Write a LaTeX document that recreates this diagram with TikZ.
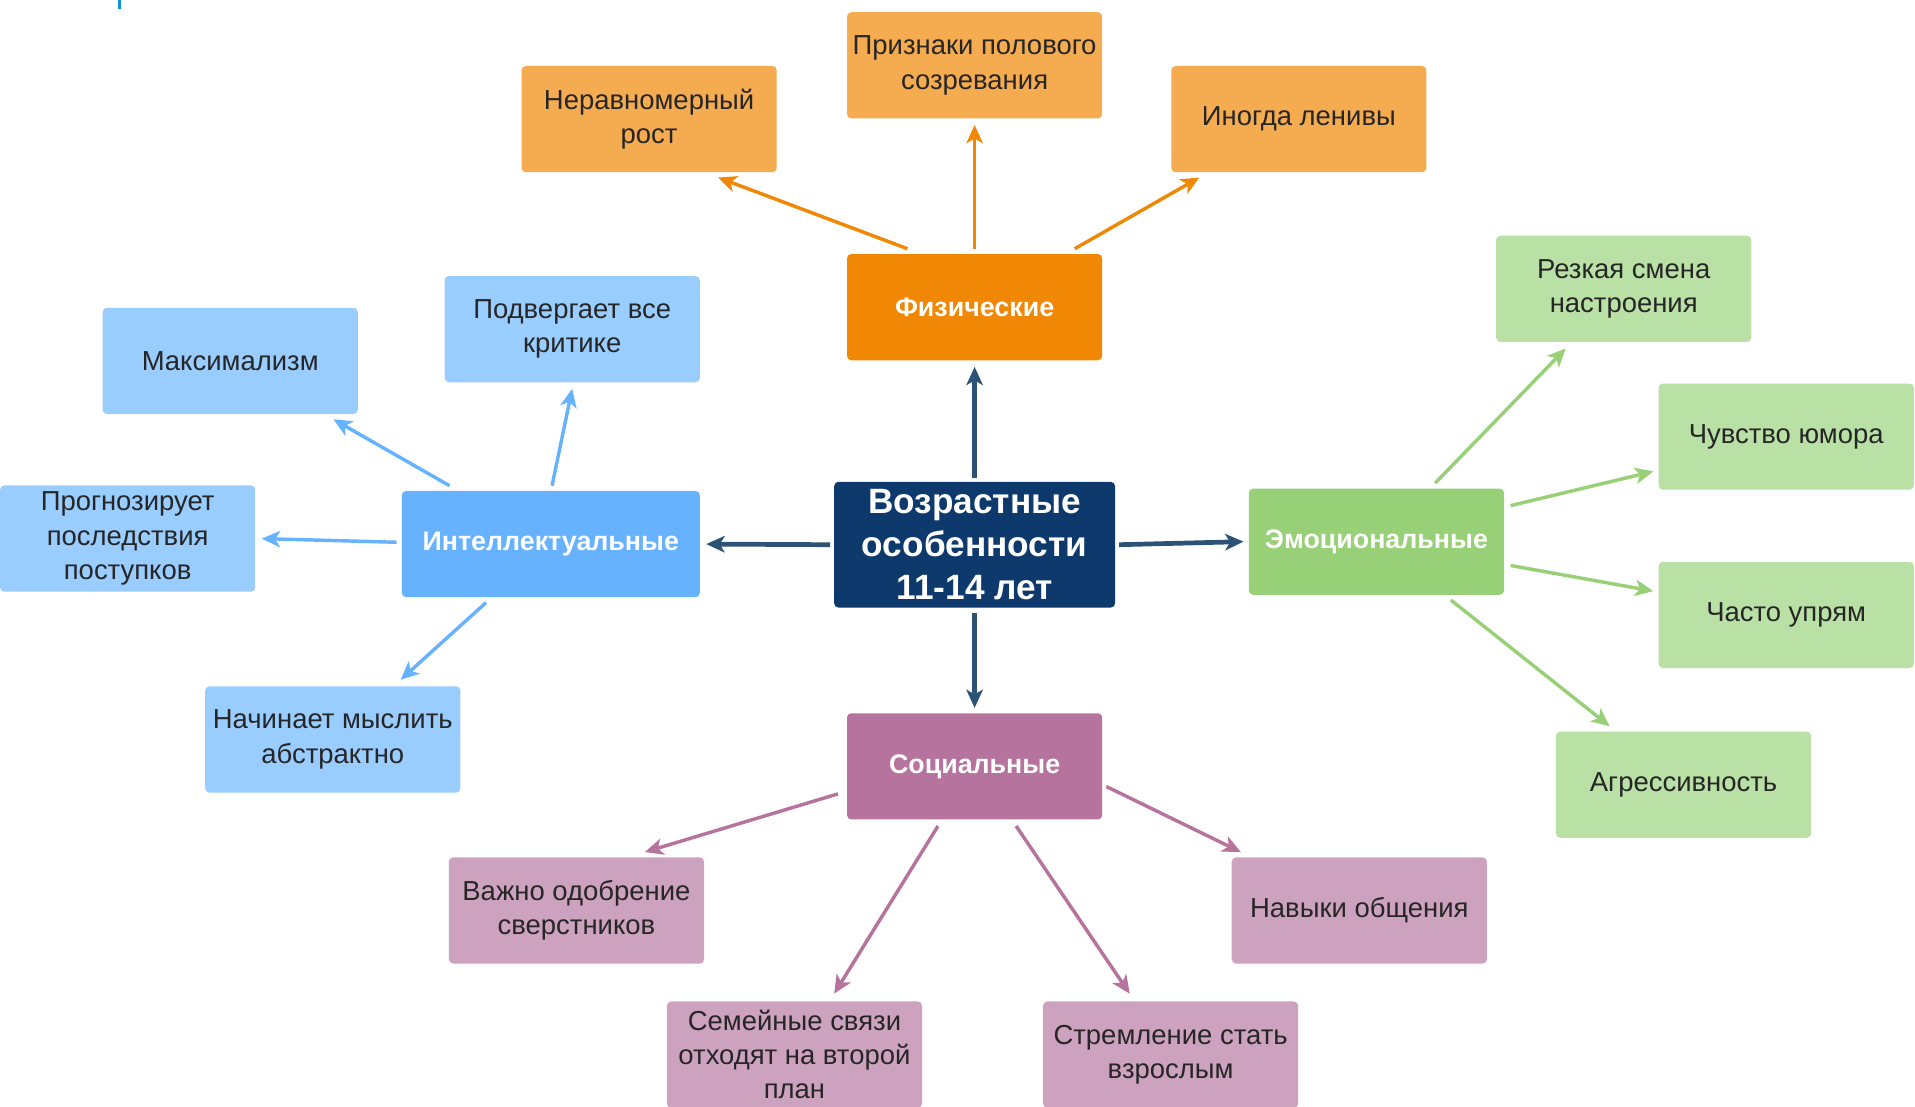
\documentclass[tikz,border=0pt]{standalone}
\usepackage{fontspec}
\setmainfont{Liberation Sans}
\usetikzlibrary{arrows.meta, calc}
\definecolor{navy}{RGB}{14,57,108}
\definecolor{stem}{RGB}{44,82,118}
\definecolor{orangeD}{HTML}{F08705}
\definecolor{orangeL}{HTML}{F5AB50}
\definecolor{blueD}{HTML}{66B2FF}
\definecolor{blueL}{HTML}{99CCFF}
\definecolor{greenD}{HTML}{97D077}
\definecolor{greenL}{HTML}{B9E0A5}
\definecolor{purpleD}{HTML}{B5739D}
\definecolor{purpleL}{HTML}{CDA2BE}
\tikzset{
    block/.style = {rectangle, rounded corners=2pt, minimum width=4.18cm, minimum height=1.74cm, inner sep=2pt, align=center, text=black!85, font=\fontsize{12.8}{16}\selectfont},
    head/.style = {block, text=white, font=\fontsize{12.5}{15}\selectfont\bfseries},
    link/.style = {line width=1.6pt, -{Stealth[length=0.3cm, width=0.27cm, inset=0.08cm]}},
    stemlink/.style = {link, line width=2.2pt, draw=stem}
}

\begin{document}
\begin{tikzpicture}[x=0.02cm, y=-0.02cm]
    \useasboundingbox (0,0) rectangle (1568,906);
    \fill [cyan!80!blue] (97,0) rectangle (99,7);
    % Центр
    \node [block, fill=navy, text=white, minimum width=4.6cm, minimum height=2.06cm, font=\fontsize{16.4}{20}\selectfont\bfseries] (age) at (798,446) {Возрастные\\особенности\\11-14 лет};
    % Группы
    \node [head, fill=orangeD] (phys) at (798,251.5) {Физические};
    \node [head, fill=blueD, minimum width=4.88cm] (intel) at (451,445.5) {Интеллектуальные};
    \node [head, fill=greenD] (emo) at (1127,443.5) {Эмоциональные};
    \node [head, fill=purpleD] (soc) at (798,627.5) {Социальные};
    % Физические
    \node [block, fill=orangeL] (uneven) at (531.5,97.5) {Неравномерный\\рост};
    \node [block, fill=orangeL] (puberty) at (798,53.5) {Признаки полового\\созревания};
    \node [block, fill=orangeL] (lazy) at (1063.5,97.5) {Иногда ленивы};
    % Интеллектуальные
    \node [block, fill=blueL] (maxim) at (188.5,295.5) {Максимализм};
    \node [block, fill=blueL] (critic) at (468.5,269.5) {Подвергает все\\критике};
    \node [block, fill=blueL] (predict) at (104.5,441) {Прогнозирует\\последствия\\поступков};
    \node [block, fill=blueL] (abstract) at (272.5,605.5) {Начинает мыслить\\абстрактно};
    % Эмоциональные
    \node [block, fill=greenL] (mood) at (1329.5,236.5) {Резкая смена\\настроения};
    \node [block, fill=greenL] (humor) at (1462.5,357.5) {Чувство юмора};
    \node [block, fill=greenL] (stubborn) at (1462.5,503.5) {Часто упрям};
    \node [block, fill=greenL] (aggr) at (1378.5,642.5) {Агрессивность};
    % Социальные
    \node [block, fill=purpleL] (peers) at (472,745.5) {Важно одобрение\\сверстников};
    \node [block, fill=purpleL] (family) at (650.5,863.5) {Семейные связи\\отходят на второй\\план};
    \node [block, fill=purpleL] (adult) at (958.5,863.5) {Стремление стать\\взрослым};
    \node [block, fill=purpleL] (skills) at (1113,745.5) {Навыки общения};
    % Стрелки
    \draw [stemlink] ($(age.north)+(0,-3)$) -- ($(phys.south)+(0,5)$);
    \draw [stemlink] ($(age.west)+(-3,0)$) -- ($(intel.east)+(5,0)$);
    \draw [stemlink] ($(age.east)+(3,0)$) -- ($(emo.west)+(-4,0)$);
    \draw [stemlink] ($(age.south)+(0,4)$) -- ($(soc.north)+(0,-4)$);

    \draw [link, draw=orangeD] ($(phys.north)+(-55,-4)$) -- ($(uneven.south)+(56.5,4)$);
    \draw [link, draw=orangeD] ($(phys.north)+(0,-4)$) -- ($(puberty.south)+(0,5)$);
    \draw [link, draw=orangeD] ($(phys.north)+(82,-4)$) -- ($(lazy.south)+(-81.5,4)$);

    \draw [link, draw=blueD] ($(intel.north)+(-83,-4)$) -- ($(maxim.south)+(84.5,4)$);
    \draw [link, draw=blueD] ($(intel.north)+(1,-4)$) -- ($(critic.south)+(0,5)$);
    \draw [link, draw=blueD] ($(intel.west)+(-4,-1.5)$) -- ($(predict.east)+(5,0)$);
    \draw [link, draw=blueD] ($(intel.south)+(-53,4)$) -- ($(abstract.north)+(55.5,-5)$);

    \draw [link, draw=greenD] ($(emo.north)+(48,-4)$) -- ($(mood.south)+(-47.5,5)$);
    \draw [link, draw=greenD] ($(emo.east)+(5,-29.5)$) -- ($(humor.west)+(-4,28.5)$);
    \draw [link, draw=greenD] ($(emo.east)+(5,19.5)$) -- ($(stubborn.west)+(-4,-19.5)$);
    \draw [link, draw=greenD] ($(emo.south)+(61,4)$) -- ($(aggr.north)+(-60.5,-4)$);

    \draw [link, draw=purpleD] ($(soc.west)+(-7,22.5)$) -- ($(peers.north)+(56,-4)$);
    \draw [link, draw=purpleD] ($(soc.south)+(-30,5)$) -- ($(family.north)+(32.5,-6)$);
    \draw [link, draw=purpleD] ($(soc.south)+(34,5)$) -- ($(adult.north)+(-33.5,-6)$);
    \draw [link, draw=purpleD] ($(soc.east)+(3,16.5)$) -- ($(skills.north)+(-97,-4)$);
\end{tikzpicture}
\end{document}
